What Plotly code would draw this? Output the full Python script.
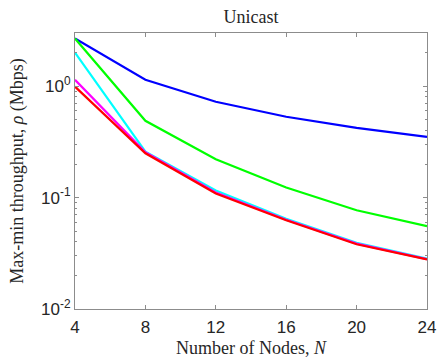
import plotly.graph_objects as go

nodes = [4, 8, 12, 16, 20, 24]
blue_vals = [2.68, 1.14, 0.725, 0.531, 0.423, 0.351]
green_vals = [2.68, 0.489, 0.221, 0.123, 0.077, 0.0554]
cyan_vals = [2.0, 0.258, 0.116, 0.0645, 0.0392, 0.0283]
magenta_vals = [1.14, 0.255, 0.111, 0.0632, 0.0386, 0.0280]
red_vals = [0.99, 0.25, 0.109, 0.0627, 0.0381, 0.0279]

series = [
    ("blue", blue_vals, "#0000FF"),
    ("green", green_vals, "#00FF00"),
    ("cyan", cyan_vals, "#00FFFF"),
    ("magenta", magenta_vals, "#FF00FF"),
    ("red", red_vals, "#FF0000"),
]

x_ticks = [4, 8, 12, 16, 20, 24]
y_tickvals = [0.01, 0.1, 1]
y_ticktext = ["10<sup>-2</sup>", "10<sup>-1</sup>", "10<sup>0</sup>"]
y_minor = [m * d for d in (0.01, 0.1) for m in range(2, 10)] + [2, 3]

fig = go.Figure()
for name, vals, col in series:
    fig.add_trace(go.Scatter(x=nodes, y=vals, mode="lines", name=name,
                             line=dict(color=col, width=2.2), showlegend=False))

axis_col = "#8c8c8c"
tick_font = dict(family="Liberation Sans, Arial, sans-serif", size=17, color="#262626")
serif = "Liberation Serif, Times New Roman, serif"

fig.update_layout(
    width=446, height=364,
    margin=dict(l=75, r=10, t=33, b=55),
    paper_bgcolor="white", plot_bgcolor="white",
    title=dict(text="Unicast", x=0.5, xanchor="center", xref="paper",
               y=1 - 17 / 364, yanchor="middle",
               font=dict(family=serif, size=18, color="#262626")),
)
fig.update_xaxes(
    range=[4, 24], tickvals=x_ticks, ticks="inside", ticklen=4,
    ticklabeloverflow="allow", ticklabelstandoff=3,
    showline=True, linecolor=axis_col, linewidth=1, mirror="ticks",
    tickcolor=axis_col, showgrid=False, zeroline=False, tickfont=tick_font,
    title=dict(text="Number of Nodes, <i>N</i>", standoff=4,
               font=dict(family=serif, size=18, color="#262626")),
)
fig.update_yaxes(
    type="log", range=[-2, 0.4771], tickvals=y_tickvals, ticktext=y_ticktext,
    ticks="inside", ticklen=4, ticklabeloverflow="allow",
    showline=True, linecolor=axis_col, linewidth=1, mirror="ticks",
    tickcolor=axis_col, showgrid=False, zeroline=False, tickfont=tick_font,
    minor=dict(tickmode="array", tickvals=y_minor, ticks="inside", ticklen=2,
               tickcolor=axis_col, showgrid=False),
    title=dict(text="Max-min throughput, <i>ρ</i> (Mbps)", standoff=12,
               font=dict(family=serif, size=18, color="#262626")),
)

fig.write_html("out.html", config={"displayModeBar": False},
               post_script="document.body.style.margin='0';")
